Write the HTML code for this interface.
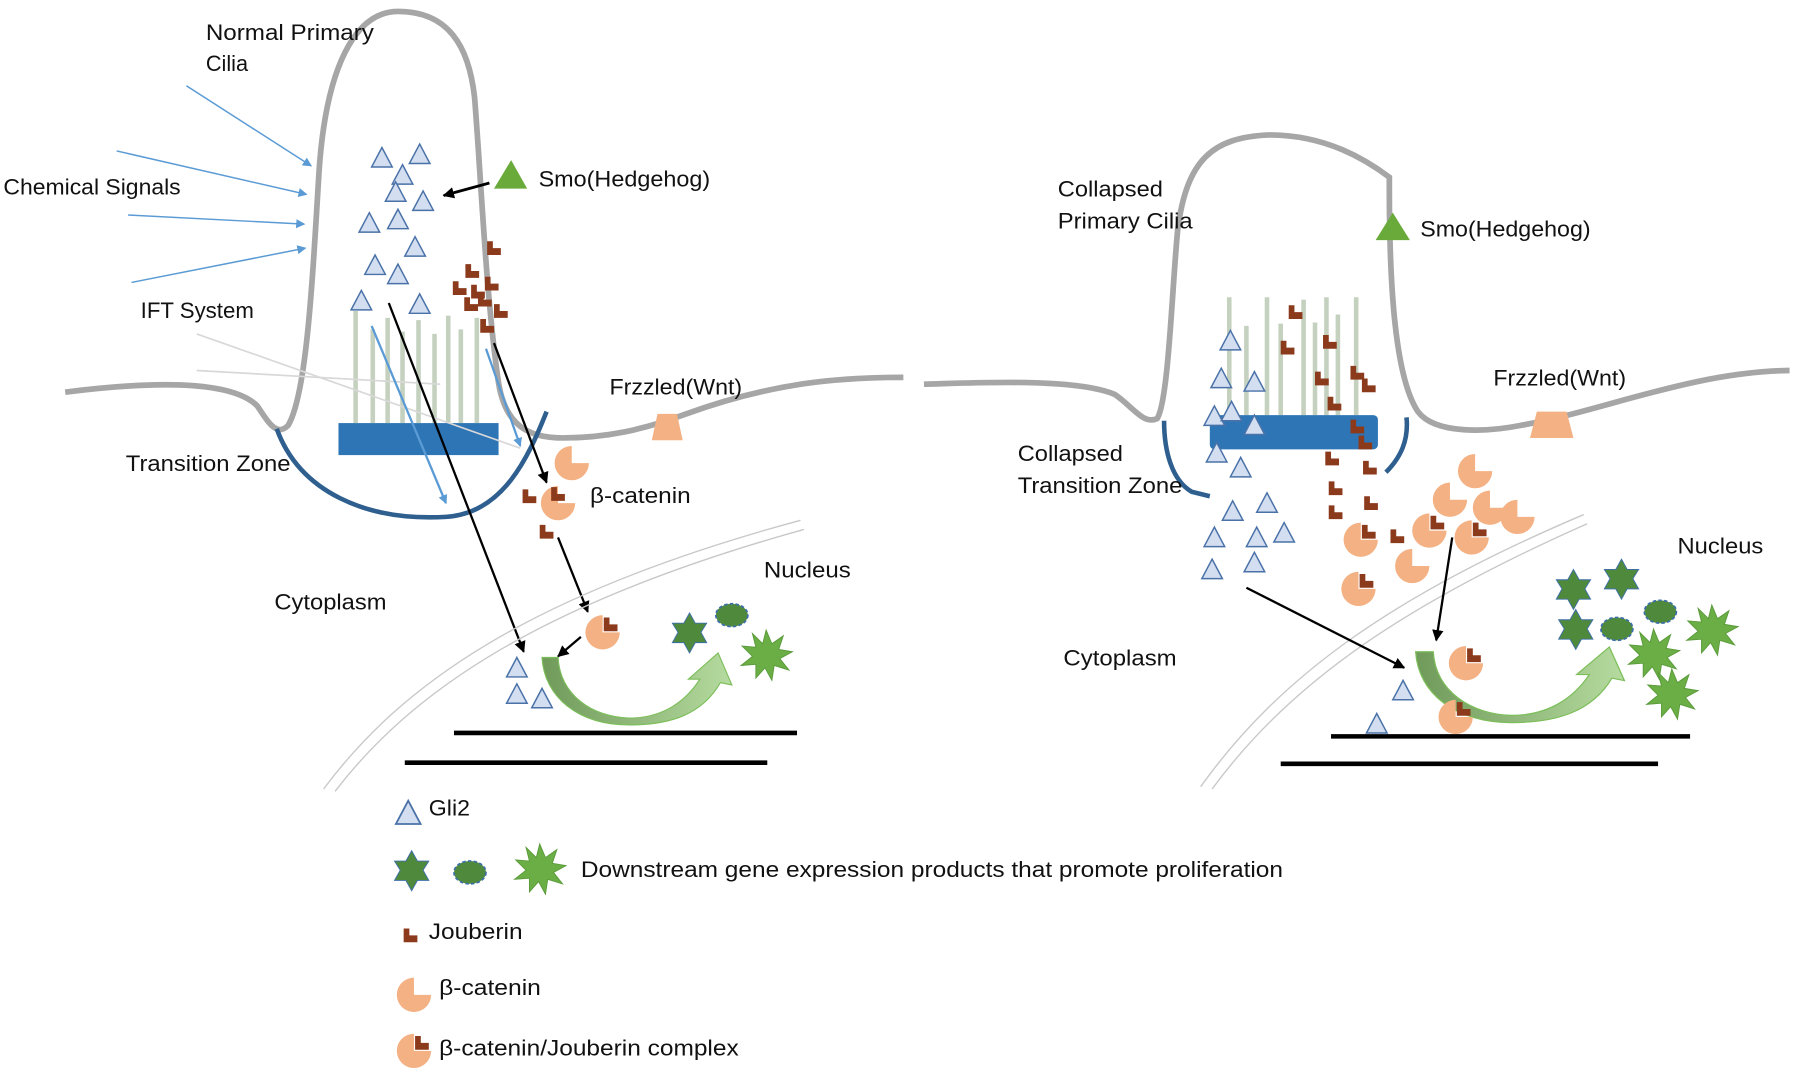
<!DOCTYPE html>
<html><head><meta charset="utf-8"><style>
html,body{margin:0;padding:0;background:#fff;}
svg{display:block;}
text{font-family:"Liberation Sans",sans-serif;font-size:19px;fill:#111;}
</style></head><body>
<svg width="1793" height="1076" viewBox="0 0 1568 941" preserveAspectRatio="none" xmlns="http://www.w3.org/2000/svg">
<defs>
<marker id="ab" markerWidth="8" markerHeight="8" refX="7" refY="4" orient="auto" markerUnits="userSpaceOnUse"><path d="M0,0 L8,4 L0,8 Z" fill="#5b9bd5"/></marker>
<marker id="ak" markerWidth="10" markerHeight="10" refX="9" refY="5" orient="auto" markerUnits="userSpaceOnUse"><path d="M0,0 L10,5 L0,10 Z" fill="#000"/></marker>
<g id="tri"><path d="M0,-9 L9,8 L-9,8 Z" fill="#d3def0" stroke="#4a72a8" stroke-width="1.3"/></g>
<g id="jb"><path d="M-6,-6 h5 v6 h7 v6 h-12 Z" fill="#8b3a1c"/></g>
<g id="pie"><path d="M0,0 L0,-15 A15,15 0 1 0 15,0 Z" fill="#f4b183"/></g>
<g id="cpx"><path d="M0,0 L0,-15 A15,15 0 1 0 15,0 Z" fill="#f4b183"/><path d="M1,-13 h5 v6 h7 v6 h-12 Z" fill="#8b3a1c"/></g>
<g id="st6"><path d="M0,-17 L5,-8 L15,-8 L10,0 L15,9 L5,9 L0,18 L-5,9 L-15,9 L-10,0 L-15,-8 L-5,-8 Z" fill="#4f8a3c" stroke="#3d6fa8" stroke-width="0.8"/></g>
<g id="blob"><ellipse cx="0" cy="0" rx="14" ry="10" fill="#4f8a3c" stroke="#3d6fa8" stroke-width="1.5" stroke-dasharray="3,2"/></g>
<g id="spk"><path d="M0,-22 L5,-10 L15,-17 L11,-5 L23,-3 L12,3 L20,13 L7,9 L5,22 L-1,11 L-9,20 L-9,8 L-22,9 L-12,1 L-21,-8 L-9,-7 L-12,-19 L-3,-10 Z" fill="#6aae45" stroke="#5a9a3a" stroke-width="0.8"/></g>
<linearGradient id="gg" x1="0" y1="0" x2="1" y2="0"><stop offset="0" stop-color="#6f9a5a"/><stop offset="1" stop-color="#b6dba0"/></linearGradient>
<g id="garc"><path d="M0,0 L14,0 C16,33 44,52 76,53 C106,53 126,38 138,19 L128,19 L154,-4 L166,24 L156,22 C140,50 112,59 76,59 C32,59 2,35 0,0 Z" fill="url(#gg)" stroke="#7cbf5a" stroke-width="1"/></g>
</defs>

<!-- LEFT PANEL -->
<path d="M57,343 C120,335 200,330 225,355 C235,370 242,382 252,372 C268,345 273,250 279,150 C285,60 310,10 348,10 C392,10 410,40 415,85 C421,160 425,260 436,335 C442,372 462,383 492,383 C530,383 562,376 600,362 C680,333 740,330 790,330" fill="none" stroke="#a6a6a6" stroke-width="5"/>
<g stroke="#c5d1bf" stroke-width="4">
<line x1="311" y1="370" x2="311" y2="272"/><line x1="326" y1="370" x2="326" y2="288"/><line x1="339" y1="370" x2="339" y2="278"/><line x1="352" y1="370" x2="352" y2="290"/><line x1="366" y1="370" x2="366" y2="280"/><line x1="380" y1="370" x2="380" y2="292"/><line x1="392" y1="370" x2="392" y2="276"/><line x1="403" y1="370" x2="403" y2="288"/><line x1="417" y1="370" x2="417" y2="278"/>
</g>
<path d="M242,375 C262,430 320,456 390,452 C440,449 462,400 478,360" fill="none" stroke="#2e5f8f" stroke-width="4"/>
<rect x="296" y="370" width="140" height="28" fill="#2e75b6"/>
<line x1="172" y1="292" x2="455" y2="392" stroke="#d8d8d8" stroke-width="1.5"/>
<line x1="172" y1="324" x2="385" y2="336" stroke="#d8d8d8" stroke-width="1.5"/>
<g stroke="#5b9bd5" stroke-width="1.3" marker-end="url(#ab)">
<line x1="163" y1="75" x2="272" y2="145"/><line x1="102" y1="132" x2="268" y2="170"/><line x1="112" y1="188" x2="266" y2="196"/><line x1="115" y1="247" x2="267" y2="217"/>
<line x1="325" y1="285" x2="390" y2="440" stroke-width="2"/><line x1="425" y1="305" x2="455" y2="390" stroke-width="2"/>
</g>
<g>
<use href="#tri" x="334" y="138"/><use href="#tri" x="367" y="135"/><use href="#tri" x="352" y="153"/><use href="#tri" x="346" y="168"/><use href="#tri" x="370" y="176"/><use href="#tri" x="323" y="195"/><use href="#tri" x="348" y="192"/><use href="#tri" x="363" y="216"/><use href="#tri" x="328" y="232"/><use href="#tri" x="348" y="240"/><use href="#tri" x="316" y="263"/><use href="#tri" x="367" y="266"/>
</g>
<g>
<use href="#jb" x="432" y="217"/><use href="#jb" x="413" y="237"/><use href="#jb" x="430" y="248"/><use href="#jb" x="402" y="252"/><use href="#jb" x="418" y="255"/><use href="#jb" x="412" y="266"/><use href="#jb" x="438" y="272"/><use href="#jb" x="424" y="262"/><use href="#jb" x="426" y="285"/>
</g>
<path d="M432,165 L461,165 L447,140 Z" fill="#6aaa3a"/>
<line x1="428" y1="160" x2="388" y2="171" stroke="#000" stroke-width="2.5" marker-end="url(#ak)"/>
<path d="M570,385 L597,385 L592,362 L575,362 Z" fill="#f4b183"/>
<use href="#pie" x="500" y="405"/>
<use href="#pie" x="488" y="440"/>
<use href="#jb" x="463" y="434"/><use href="#jb" x="488" y="432"/><use href="#jb" x="478" y="465"/>
<g stroke="#000" stroke-width="2" marker-end="url(#ak)">
<line x1="340" y1="265" x2="458" y2="570"/><line x1="432" y1="300" x2="478" y2="422"/><line x1="488" y1="470" x2="514" y2="535"/><line x1="508" y1="557" x2="488" y2="574"/>
</g>
<path d="M283,690 C350,600 460,520 700,455" fill="none" stroke="#c8c8c8" stroke-width="1.2"/>
<path d="M293,692 C360,605 470,528 703,463" fill="none" stroke="#c8c8c8" stroke-width="1.2"/>
<use href="#cpx" x="527" y="553"/>
<use href="#garc" x="474" y="575"/>
<use href="#tri" x="452" y="584"/><use href="#tri" x="452" y="607"/><use href="#tri" x="474" y="611"/>
<use href="#st6" x="603" y="553"/><use href="#blob" x="640" y="538"/><use href="#spk" x="670" y="573"/>
<line x1="397" y1="641" x2="697" y2="641" stroke="#000" stroke-width="4"/>
<line x1="354" y1="667" x2="671" y2="667" stroke="#000" stroke-width="4"/>
<text x="180" y="35" textLength="147" lengthAdjust="spacingAndGlyphs">Normal Primary</text><text x="180" y="62">Cilia</text>
<text x="3" y="170" textLength="155" lengthAdjust="spacingAndGlyphs">Chemical Signals</text>
<text x="123" y="278" textLength="99" lengthAdjust="spacingAndGlyphs">IFT System</text>
<text x="110" y="412" textLength="144" lengthAdjust="spacingAndGlyphs">Transition Zone</text>
<text x="471" y="163" textLength="150" lengthAdjust="spacingAndGlyphs">Smo(Hedgehog)</text>
<text x="533" y="345" textLength="116" lengthAdjust="spacingAndGlyphs">Frzzled(Wnt)</text>
<text x="516" y="440" textLength="88" lengthAdjust="spacingAndGlyphs">β-catenin</text>
<text x="668" y="505" textLength="76" lengthAdjust="spacingAndGlyphs">Nucleus</text>
<text x="240" y="533" textLength="98" lengthAdjust="spacingAndGlyphs">Cytoplasm</text>

<!-- RIGHT PANEL -->
<path d="M808,336 C850,335 940,330 975,345 C990,355 1000,372 1012,366 C1022,350 1025,250 1030,200 C1038,140 1060,120 1110,118 C1160,118 1195,140 1215,155 L1215,165 C1215,250 1220,330 1240,360 C1255,380 1300,378 1330,372 C1400,360 1480,325 1565,324" fill="none" stroke="#a6a6a6" stroke-width="5"/>
<g stroke="#c5d1bf" stroke-width="4">
<line x1="1075" y1="363" x2="1075" y2="260"/><line x1="1090" y1="363" x2="1090" y2="285"/><line x1="1108" y1="363" x2="1108" y2="260"/><line x1="1120" y1="363" x2="1120" y2="283"/><line x1="1140" y1="363" x2="1140" y2="262"/><line x1="1150" y1="363" x2="1150" y2="282"/><line x1="1160" y1="363" x2="1160" y2="260"/><line x1="1170" y1="363" x2="1170" y2="275"/><line x1="1186" y1="363" x2="1186" y2="260"/>
</g>
<path d="M1018,368 C1018,395 1025,420 1042,430 L1058,434" fill="none" stroke="#2e5f8f" stroke-width="4"/>
<path d="M1230,365 C1232,385 1225,400 1212,413" fill="none" stroke="#2e5f8f" stroke-width="4"/>
<rect x="1058" y="363" width="147" height="30" rx="4" fill="#2e75b6"/>
<path d="M1203,210 L1233,210 L1218,186 Z" fill="#6aaa3a"/>
<path d="M1338,383 L1376,383 L1370,360 L1344,360 Z" fill="#f4b183"/>
<g>
<use href="#tri" x="1076" y="298"/><use href="#tri" x="1068" y="331"/><use href="#tri" x="1097" y="334"/><use href="#tri" x="1062" y="364"/><use href="#tri" x="1077" y="360"/><use href="#tri" x="1097" y="372"/><use href="#tri" x="1064" y="396"/><use href="#tri" x="1085" y="409"/><use href="#tri" x="1078" y="447"/><use href="#tri" x="1108" y="440"/><use href="#tri" x="1062" y="470"/><use href="#tri" x="1099" y="470"/><use href="#tri" x="1123" y="466"/><use href="#tri" x="1060" y="498"/><use href="#tri" x="1097" y="492"/><use href="#tri" x="1227" y="604"/><use href="#tri" x="1204" y="633"/>
</g>
<g>
<use href="#jb" x="1133" y="273"/><use href="#jb" x="1126" y="304"/><use href="#jb" x="1163" y="299"/><use href="#jb" x="1156" y="331"/><use href="#jb" x="1187" y="326"/><use href="#jb" x="1197" y="337"/><use href="#jb" x="1167" y="353"/><use href="#jb" x="1187" y="373"/><use href="#jb" x="1194" y="387"/><use href="#jb" x="1165" y="401"/><use href="#jb" x="1198" y="409"/><use href="#jb" x="1168" y="427"/><use href="#jb" x="1199" y="440"/><use href="#jb" x="1168" y="448"/><use href="#jb" x="1222" y="469"/>
</g>
<g>
<use href="#pie" x="1290" y="412"/><use href="#pie" x="1268" y="437"/><use href="#pie" x="1303" y="444"/><use href="#pie" x="1327" y="452"/><use href="#pie" x="1235" y="495"/>
<use href="#cpx" x="1250" y="464"/><use href="#cpx" x="1287" y="470"/><use href="#cpx" x="1190" y="472"/><use href="#cpx" x="1188" y="515"/>
</g>
<path d="M1050,688 C1120,590 1220,520 1385,450" fill="none" stroke="#c8c8c8" stroke-width="1.2"/>
<path d="M1060,690 C1130,595 1230,528 1388,458" fill="none" stroke="#c8c8c8" stroke-width="1.2"/>
<g stroke="#000" stroke-width="2" marker-end="url(#ak)">
<line x1="1090" y1="514" x2="1228" y2="584"/><line x1="1270" y1="470" x2="1256" y2="560"/>
</g>
<use href="#garc" x="1238" y="570" transform="translate(1238,570) scale(1.1,1.05) translate(-1238,-570)"/>
<use href="#cpx" x="1282" y="580"/><use href="#cpx" x="1273" y="627"/>
<use href="#st6" x="1376" y="515"/><use href="#st6" x="1418" y="506"/><use href="#st6" x="1378" y="550"/>
<use href="#blob" x="1452" y="535"/><use href="#blob" x="1414" y="550"/>
<use href="#spk" x="1497" y="551"/><use href="#spk" x="1446" y="572"/><use href="#spk" x="1462" y="607"/>
<line x1="1164" y1="644" x2="1478" y2="644" stroke="#000" stroke-width="4"/>
<line x1="1120" y1="668" x2="1450" y2="668" stroke="#000" stroke-width="4"/>
<text x="925" y="172" textLength="92" lengthAdjust="spacingAndGlyphs">Collapsed</text><text x="925" y="200" textLength="118" lengthAdjust="spacingAndGlyphs">Primary Cilia</text>
<text x="890" y="403" textLength="92" lengthAdjust="spacingAndGlyphs">Collapsed</text><text x="890" y="431" textLength="144" lengthAdjust="spacingAndGlyphs">Transition Zone</text>
<text x="1242" y="207" textLength="149" lengthAdjust="spacingAndGlyphs">Smo(Hedgehog)</text>
<text x="1306" y="337" textLength="116" lengthAdjust="spacingAndGlyphs">Frzzled(Wnt)</text>
<text x="1467" y="484" textLength="75" lengthAdjust="spacingAndGlyphs">Nucleus</text>
<text x="930" y="582" textLength="99" lengthAdjust="spacingAndGlyphs">Cytoplasm</text>

<!-- LEGEND -->
<use href="#tri" x="357" y="711" transform="translate(357,711) scale(1.2) translate(-357,-711)"/>
<text x="375" y="713" textLength="36" lengthAdjust="spacingAndGlyphs">Gli2</text>
<use href="#st6" x="360" y="761"/><use href="#blob" x="411" y="763"/><use href="#spk" x="472" y="760"/>
<text x="508" y="767" textLength="614" lengthAdjust="spacingAndGlyphs">Downstream gene expression products that promote proliferation</text>
<use href="#jb" x="359" y="818"/>
<text x="375" y="821" textLength="82" lengthAdjust="spacingAndGlyphs">Jouberin</text>
<use href="#pie" x="362" y="870"/>
<text x="384" y="870" textLength="89" lengthAdjust="spacingAndGlyphs">β-catenin</text>
<use href="#cpx" x="362" y="919"/>
<text x="384" y="923" textLength="262" lengthAdjust="spacingAndGlyphs">β-catenin/Jouberin complex</text>
</svg>
</body></html>
